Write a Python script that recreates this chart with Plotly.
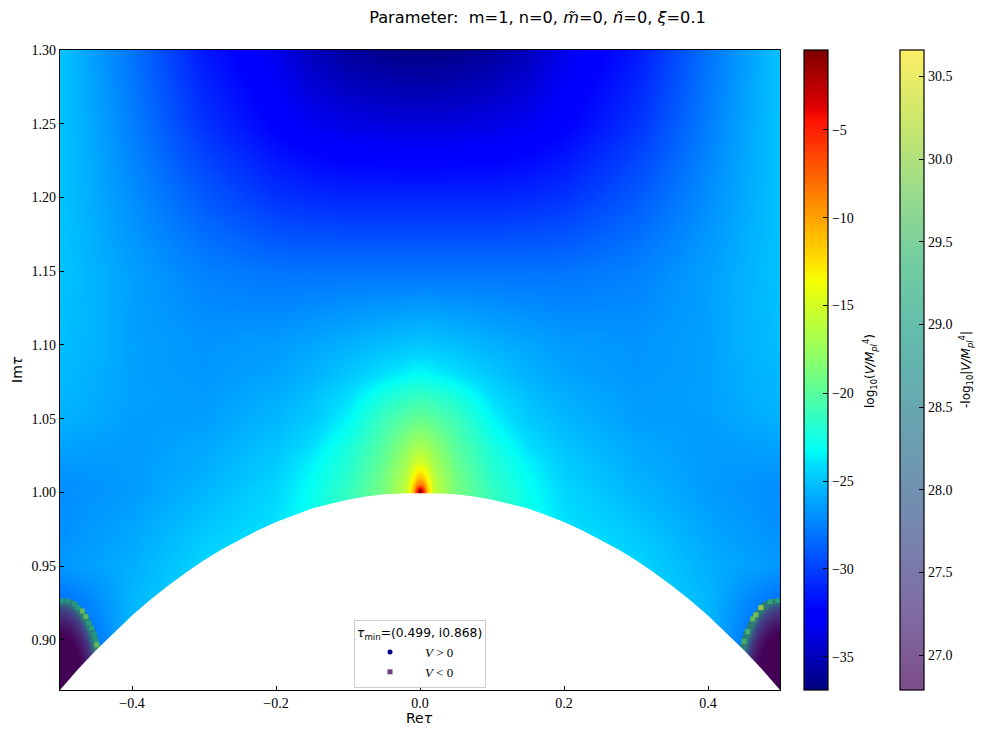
import plotly.graph_objects as go

half_x = [0, .004, .01, .02, .05, .1, .15, .2, .3, .4, .45, .5]
y_rows = [.866, .9, .93, .95, .98, 1.0, 1.0015, 1.005, 1.01, 1.02, 1.03, 1.05, 1.065, 1.08, 1.1, 1.15, 1.2, 1.25, 1.3]
half_z = [
    [-22, -22, -22, -22, -22, -22, -22, -23, -24, -25, -29, -31],
    [-22, -22, -22, -22, -22, -22, -22, -23, -24, -25.5, -27.8, -29],
    [-22, -22, -22, -22, -22, -22, -22, -23, -24.2, -25.5, -27, -28],
    [-20, -20, -20, -20.5, -21, -21.8, -22.5, -23.2, -24.3, -25.8, -26.2, -26.7],
    [-18, -18, -18, -19, -20, -21, -22.8, -24, -25, -26.2, -26.6, -27],
    [-1, -5, -11, -15.8, -18.9, -21.3, -23, -24.3, -25.5, -26.5, -26.8, -27],
    [-0.5, -5, -11, -15.8, -18.9, -21.3, -23, -24.3, -25.5, -26.5, -26.8, -27],
    [-8, -8.5, -12, -16, -18.9, -21.5, -23.1, -24.4, -25.6, -26.5, -26.8, -27],
    [-11, -11.5, -13.5, -16.2, -19, -21.7, -23.2, -24.5, -25.7, -26.5, -26.7, -26.9],
    [-15, -15.1, -15.6, -17, -19.5, -22, -23.5, -24.7, -25.9, -26.5, -26.6, -26.6],
    [-16.8, -16.9, -17.1, -17.9, -20, -22.3, -24, -25, -26, -26.5, -26.4, -26.3],
    [-19.5, -19.6, -19.7, -20, -21, -23.4, -24.8, -25.5, -26.4, -26.4, -26, -25.7],
    [-21.2, -21.2, -21.3, -21.5, -22.3, -24.1, -25.1, -25.8, -26.5, -26.3, -25.9, -25.5],
    [-23.3, -23.3, -23.3, -23.5, -24, -24.9, -25.7, -26.2, -26.7, -26.3, -25.8, -25.4],
    [-24.9, -24.9, -24.9, -25, -25.2, -25.7, -26.1, -26.5, -26.8, -26.3, -25.7, -25.2],
    [-28, -28, -28, -28, -28, -28, -28, -28, -27.5, -26.4, -25.7, -25],
    [-31, -31, -31, -31, -31, -31, -30.8, -30.5, -29, -27, -26, -25],
    [-34, -34, -34, -34, -33.9, -33.7, -33.3, -32.5, -30.5, -27.6, -26.2, -25],
    [-36.7, -36.7, -36.7, -36.7, -36.5, -36, -35, -33.5, -31.5, -28, -26.5, -25],
]

edge_left_x = [-.497, -.489, -.480, -.475, -.469, -.464, -.460, -.456, -.452, -.450, -.449]
edge_left_y = [.9265, .9265, .9246, .9219, .9196, .9158, .9115, .908, .9038, .900, .8966]
edge_left_v = [28.9, 28.9, 29.0, 29.0, 29.9, 29.8, 29.2, 29.2, 29.0, 29.0, 29.9]
edge_right_x = [.4968, .4866, .4736, .4663, .462, .455, .450]
edge_right_y = [.9267, .926, .9219, .917, .9142, .9056, .899]
edge_right_v = [29.1, 29.3, 30.4, 30.0, 29.9, 29.6, 29.6]

band_dx = [0, .011, .020, .028, .036, .043, .048, .051, .053, .054]
band_dy = [.0605, .0602, .0586, .0545, .0498, .0425, .0378, .0325, .027, .0]

arc_x = [-.5, -.475, -.45, -.425, -.4, -.375, -.35, -.325, -.3, -.275, -.25, -.225, -.2, -.175, -.15, -.125, -.1, -.075, -.05, -.025, 0,
         .025, .05, .075, .1, .125, .15, .175, .2, .225, .25, .275, .3, .325, .35, .375, .4, .425, .45, .475, .5, .5, -.5]
arc_y = [.866, .880, .893, .905, .9165, .927, .9367, .9457, .954, .9614, .968, .9744, .98, .9846, .989, .9922, .995, .9972, .9987, .9992, .9995,
         .9992, .9987, .9972, .995, .9922, .989, .9846, .98, .9744, .968, .9614, .954, .9457, .9367, .927, .9165, .905, .893, .880, .866, .86, .86]

Y_TICKS = [.90, .95, 1.00, 1.05, 1.10, 1.15, 1.20, 1.25, 1.30]
X_TICKS = [-.4, -.2, 0, .2, .4]
V_MIN, V_MAX = -36.9, -0.45
N_MIN, N_MAX = 26.79, 30.66
CORNER_X, CORNER_Y = .5, .866

jet = [[0, "rgb(0,0,127)"], [.11, "rgb(0,0,255)"], [.125, "rgb(0,0,255)"], [.35, "rgb(0,219,255)"], [.375, "rgb(0,255,246)"],
       [.5, "rgb(124,255,121)"], [.64, "rgb(246,255,0)"], [.66, "rgb(255,234,0)"], [.89, "rgb(255,18,0)"], [.91, "rgb(223,0,0)"], [1, "rgb(127,0,0)"]]
vir = [(68, 1, 84), (72, 40, 120), (62, 74, 137), (49, 104, 142), (38, 130, 142), (31, 158, 137), (53, 183, 121), (109, 205, 89), (180, 222, 44), (253, 231, 37)]
vir_alpha = [[i / 9, "rgba(%d,%d,%d,0.7)" % c] for i, c in enumerate(vir)]
corner_scale = [[0, "rgb(66,0,84)"], [.62, "rgb(68,2,86)"], [.8, "rgb(72,36,116)"], [.92, "rgb(62,74,137)"], [1, "rgb(45,125,120)"]]

SERIF = "Liberation Serif"
SANS = "DejaVu Sans"
BLACK = "black"

full_x = [-v for v in half_x[:0:-1]] + half_x
full_z = [r[:0:-1] + r for r in half_z]

fig = go.Figure()
fig.add_trace(go.Heatmap(
    x=full_x, y=y_rows, z=full_z, zmin=V_MIN, zmax=V_MAX, colorscale=jet, zsmooth="best", showlegend=False,
    colorbar=dict(x=(804 - 60) / 720, xanchor="left", xpad=0, y=0, yanchor="bottom", ypad=0, len=1, thickness=24,
                  outlinecolor=BLACK, outlinewidth=1.2, ticks="inside", ticklen=5, tickcolor=BLACK,
                  tickvals=[-35, -30, -25, -20, -15, -10, -5], tickfont=dict(family=SERIF, size=14, color=BLACK))))

for sign in (-1, 1):
    cx = sign * CORNER_X
    qx = [cx - sign * d for d in band_dx]
    qy = [CORNER_Y + d for d in band_dy]
    # polygon mirrored about the plot corner, so that the radial fill is centred on it
    px = [cx - sign * d for d in band_dx] + [cx - sign * d for d in band_dx[::-1]] + [cx + sign * d for d in band_dx] + [cx + sign * d for d in band_dx[::-1]]
    py = [CORNER_Y + d for d in band_dy] + [CORNER_Y - d for d in band_dy[::-1]] + [CORNER_Y - d for d in band_dy] + [CORNER_Y + d for d in band_dy[::-1]]
    fig.add_trace(go.Scatter(x=px, y=py, mode="lines", fill="toself", fillgradient=dict(type="radial", colorscale=corner_scale),
                             line=dict(color="rgba(0,0,0,0)", width=0), showlegend=False, hoverinfo="skip"))
    fig.add_trace(go.Scatter(x=qx[:-1], y=qy[:-1], mode="lines", line=dict(color="rgb(42,125,118)", width=4.5, shape="spline"), showlegend=False, hoverinfo="skip"))

fig.add_trace(go.Scatter(x=arc_x, y=arc_y, mode="lines", fill="toself", fillcolor="white", line=dict(color="white", width=0), showlegend=False, hoverinfo="skip"))
fig.add_trace(go.Scatter(
    x=edge_left_x + edge_right_x, y=edge_left_y + edge_right_y, mode="markers", showlegend=False,
    marker=dict(symbol="square", size=5, color=edge_left_v + edge_right_v, cmin=N_MIN, cmax=N_MAX, colorscale=vir_alpha,
                line=dict(width=0),
                colorbar=dict(x=(900 - 60) / 720, xanchor="left", xpad=0, y=0, yanchor="bottom", ypad=0, len=1, thickness=24,
                              outlinecolor=BLACK, outlinewidth=1.2, ticks="inside", ticklen=5, tickcolor=BLACK,
                              tickvals=[27, 27.5, 28, 28.5, 29, 29.5, 30, 30.5], tickformat=".1f",
                              tickfont=dict(family=SERIF, size=14, color=BLACK)))))
fig.add_trace(go.Scatter(x=[None], y=[None], mode="markers", name="<i>V</i> &gt; 0", marker=dict(symbol="circle", size=5, color="rgb(0,0,139)")))
fig.add_trace(go.Scatter(x=[None], y=[None], mode="markers", name="<i>V</i> &lt; 0", marker=dict(symbol="square", size=5, color="rgb(110,60,130)")))

W, H = 977, 729
def ann(text, px_x, px_y, angle, size):
    return dict(text=text, xref="paper", yref="paper", x=(px_x - 60) / 720, y=(690 - px_y) / 640, showarrow=False, textangle=angle,
                xanchor="center", yanchor="middle", font=dict(family=SANS, size=size, color=BLACK))

fig.update_layout(
    width=W, height=H, autosize=False, paper_bgcolor="white", plot_bgcolor="white",
    margin=dict(l=52, r=205, t=42, b=47, autoexpand=False),
    title=dict(text="Parameter:  m=1, n=0, <i>m̃</i>=0, <i>ñ</i>=0, <i>ξ</i>=0.1", x=(537.5 - 8) / W, xanchor="center", y=1 - (17 - 8) / H, yanchor="middle",
               font=dict(family=SANS, size=16.2, color=BLACK)),
    xaxis=dict(range=[-.5, .5], tickvals=X_TICKS, ticktext=["−0.4", "−0.2", "0.0", "0.2", "0.4"], ticks="inside", ticklen=4, tickcolor=BLACK, showgrid=False, zeroline=False,
               showline=True, linecolor=BLACK, linewidth=1.2, mirror=True, automargin=False, tickfont=dict(family=SERIF, size=14, color=BLACK)),
    yaxis=dict(range=[.866, 1.30], tickvals=Y_TICKS, tickformat=".2f", ticks="inside", ticklen=4, tickcolor=BLACK, showgrid=False, zeroline=False,
               showline=True, linecolor=BLACK, linewidth=1.2, mirror=True, automargin=False, tickfont=dict(family=SERIF, size=14, color=BLACK)),
    annotations=[
        ann("Re<i>τ</i>", 419, 718, 0, 14),
        ann("Im<i>τ</i>", 17, 370, -90, 14),
        ann("log<sub>10</sub>(<i>V/M</i><sub><i>pl</i></sub><sup>4</sup>)", 870, 371, -90, 12),
        ann("-log<sub>10</sub>|<i>V/M</i><sub><i>pl</i></sub><sup>4</sup>|", 966, 370, -90, 12),
    ],
    legend=dict(x=(354 - 60) / 720, xanchor="left", y=(690 - 620) / 640, yanchor="top", bgcolor="rgba(255,255,255,0.85)", bordercolor="#cccccc", borderwidth=1,
                title=dict(text="<i>τ</i><sub>min</sub>=(0.499, i0.868)", font=dict(family=SANS, size=12.3, color=BLACK)),
                font=dict(family=SERIF, size=13, color=BLACK), itemsizing="trace", itemwidth=60, tracegroupgap=0),
)
fig.write_html("out.html")
